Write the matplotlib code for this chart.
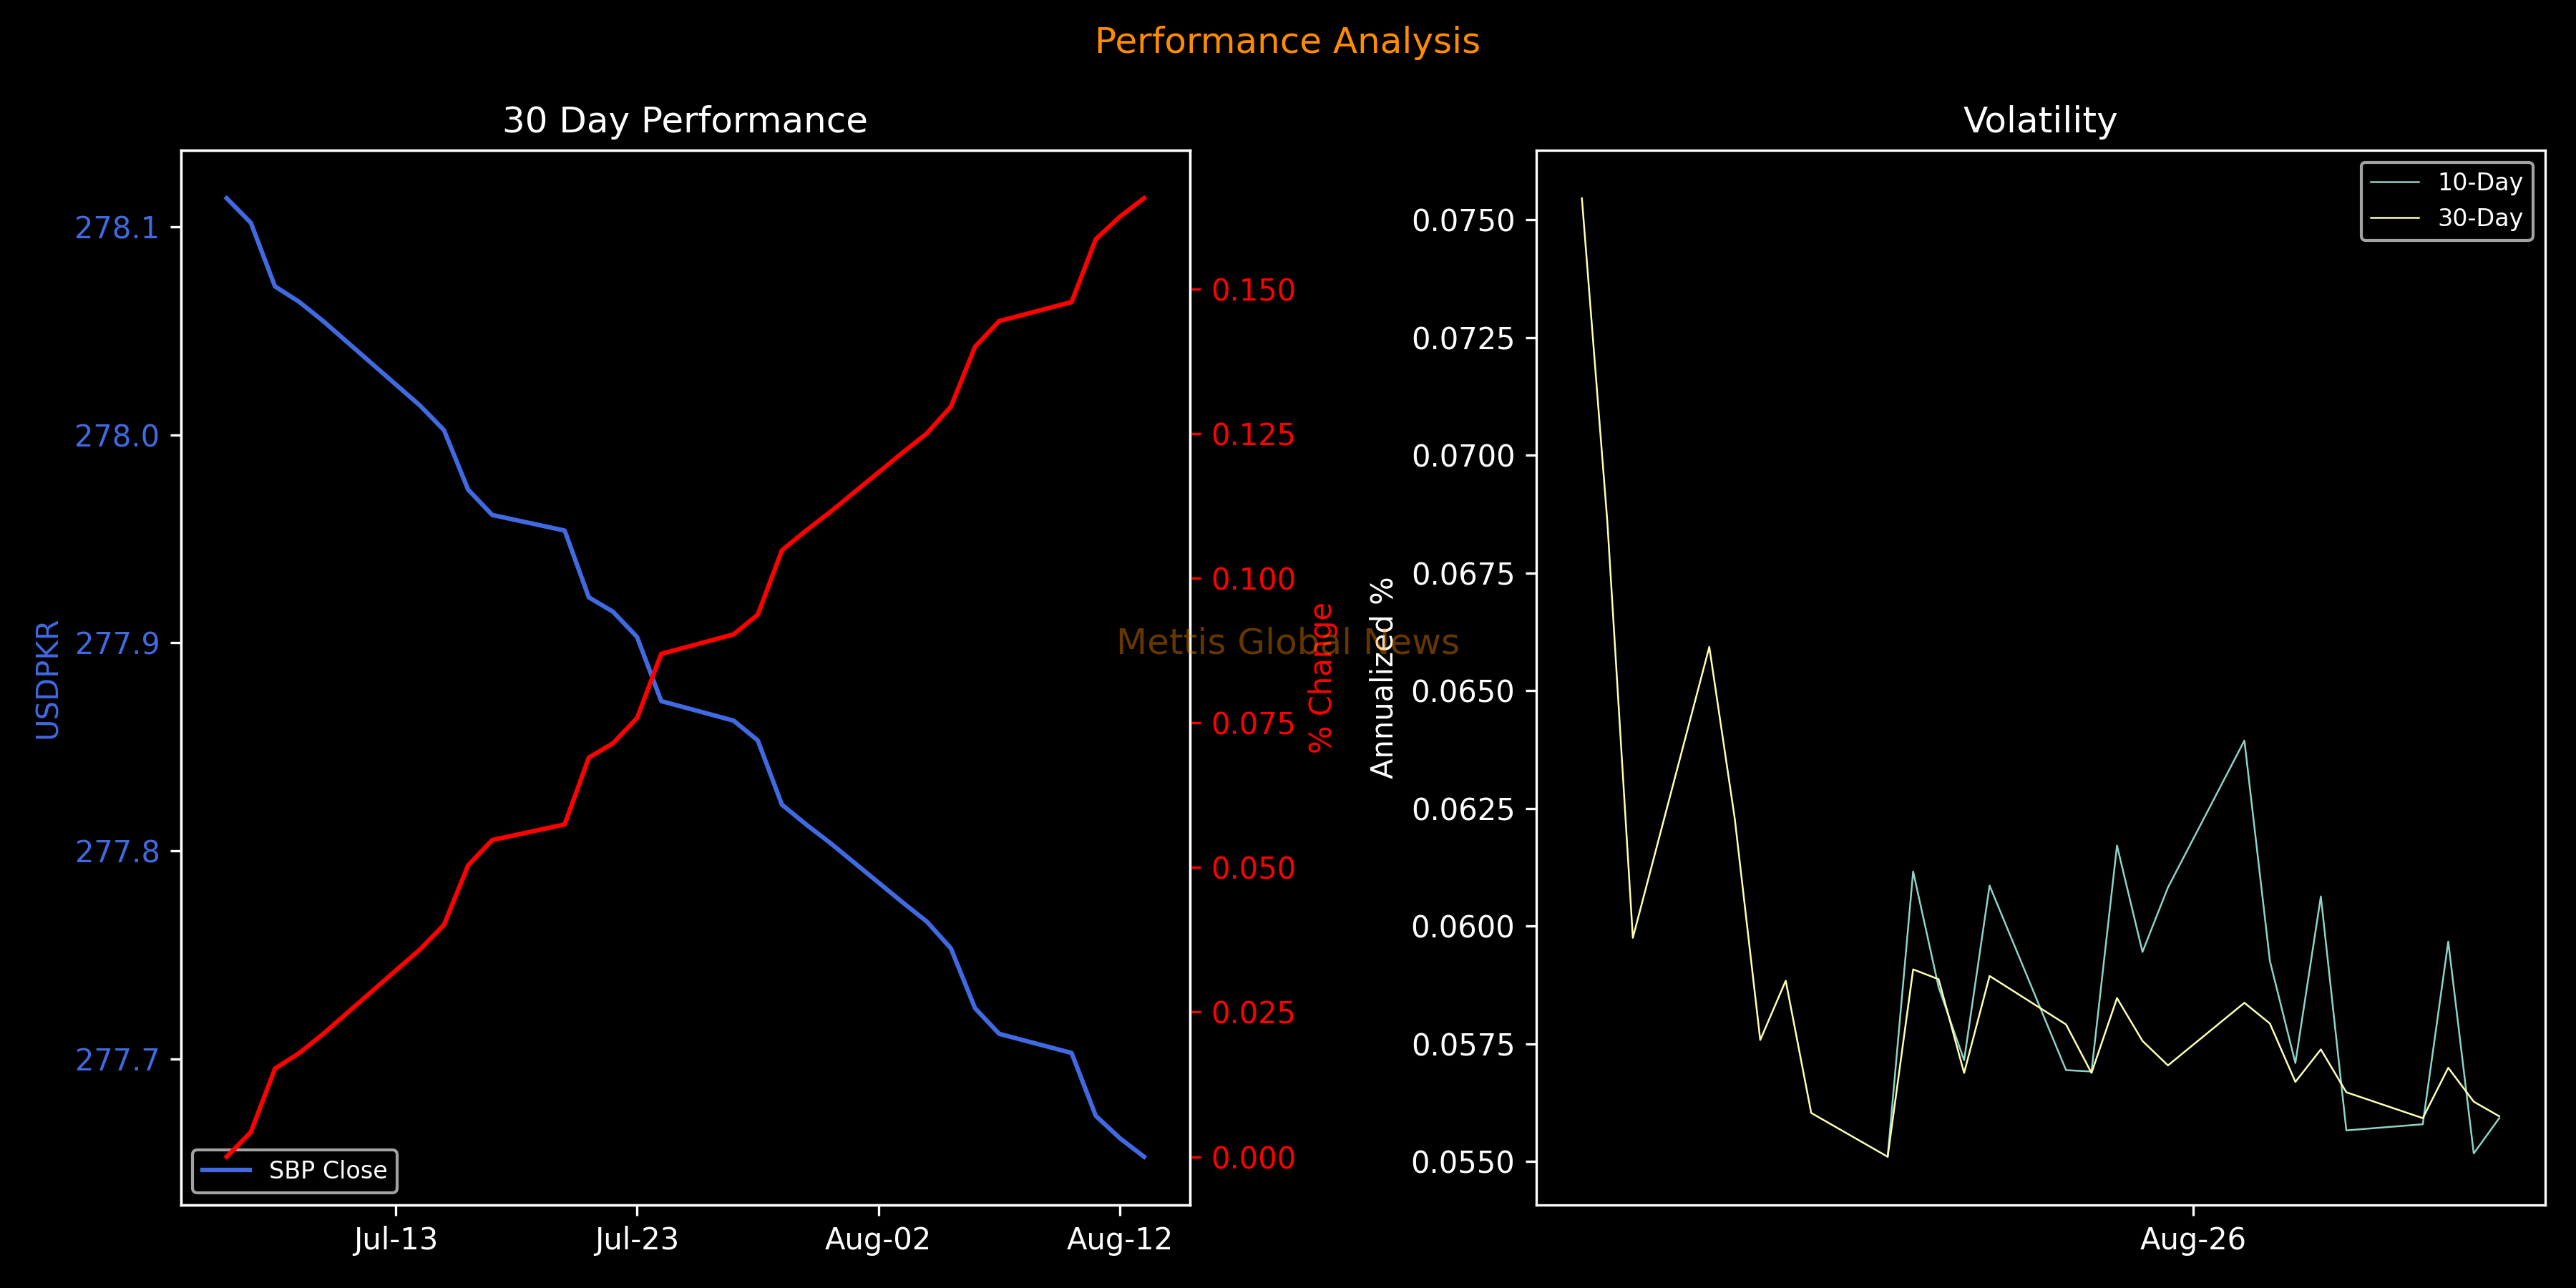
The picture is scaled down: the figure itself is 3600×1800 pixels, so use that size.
import pandas as pd
import matplotlib
matplotlib.use("Agg")
import matplotlib.pyplot as plt
import matplotlib.dates as mdates

plt.style.use("dark_background")

# 30 day SBP close (USDPKR)
perf_dates = [
    "2026-07-06", "2026-07-07", "2026-07-08", "2026-07-09", "2026-07-10",
    "2026-07-13", "2026-07-14", "2026-07-15", "2026-07-16", "2026-07-17",
    "2026-07-20", "2026-07-21", "2026-07-22", "2026-07-23", "2026-07-24",
    "2026-07-27", "2026-07-28", "2026-07-29", "2026-07-30", "2026-07-31",
    "2026-08-03", "2026-08-04", "2026-08-05", "2026-08-06", "2026-08-07",
    "2026-08-10", "2026-08-11", "2026-08-12", "2026-08-13",
]
sbp_close = [
    278.1138, 278.1020, 278.0714, 278.0640, 278.0547,
    278.0243, 278.0142, 278.0023, 277.9737, 277.9615,
    277.9540, 277.9219, 277.9150, 277.9028, 277.8720,
    277.8626, 277.8531, 277.8222, 277.8127, 277.8038,
    277.7752, 277.7660, 277.7531, 277.7243, 277.7120,
    277.7028, 277.6726, 277.6618, 277.6529,
]

# annualized volatility
vol_dates = [
    "2023-08-02", "2023-08-03", "2023-08-04",
    "2023-08-07", "2023-08-08", "2023-08-09", "2023-08-10", "2023-08-11",
    "2023-08-14", "2023-08-15", "2023-08-16", "2023-08-17", "2023-08-18",
    "2023-08-21", "2023-08-22", "2023-08-23", "2023-08-24", "2023-08-25",
    "2023-08-28", "2023-08-29", "2023-08-30", "2023-08-31", "2023-09-01",
    "2023-09-04", "2023-09-05", "2023-09-06", "2023-09-07",
]
nan = float("nan")
vol_10d = [
    nan, nan, nan,
    nan, nan, nan, nan, nan,
    0.05510, 0.06116, 0.05870, 0.05715, 0.06086,
    0.05694, 0.05691, 0.06171, 0.05945, 0.06082,
    0.06394, 0.05926, 0.05709, 0.06063, 0.05566,
    0.05579, 0.05967, 0.05517, 0.05592,
]
vol_30d = [
    0.07546, 0.06858, 0.05975,
    0.06593, 0.06228, 0.05758, 0.05884, 0.05603,
    0.05510, 0.05908, 0.05887, 0.05688, 0.05894,
    0.05791, 0.05688, 0.05847, 0.05756, 0.05704,
    0.05837, 0.05793, 0.05669, 0.05738, 0.05647,
    0.05592, 0.05699, 0.05627, 0.05596,
]

perf = pd.DataFrame({"close": sbp_close}, index=pd.to_datetime(perf_dates))
perf["pct"] = (perf["close"].iloc[0] - perf["close"]) / perf["close"].iloc[0] * 100
vol = pd.DataFrame({"10-Day": vol_10d, "30-Day": vol_30d}, index=pd.to_datetime(vol_dates))

fig, (ax1, ax3) = plt.subplots(1, 2, figsize=(12, 6), dpi=300)
fig.subplots_adjust(left=0.0702, right=0.988, bottom=0.0647, top=0.8833, wspace=0.343)

# left: close + % change
ax1.plot(perf.index, perf["close"], color="royalblue", lw=1.5, label="SBP Close")
ax1.set_ylabel("USDPKR", color="royalblue")
ax1.tick_params(axis="y", labelcolor="royalblue")
ax1.set_title("30 Day Performance")
ax1.legend(loc="lower left", fontsize=8)
ax1.xaxis.set_major_locator(mdates.DayLocator(interval=10))
ax1.xaxis.set_major_formatter(mdates.DateFormatter("%b-%d"))

ax2 = ax1.twinx()
ax2.plot(perf.index, perf["pct"], color="red", lw=1.5)
ax2.set_ylabel("% Change", color="red")
ax2.tick_params(axis="y", colors="red")

# right: volatility
ax3.plot(vol.index, vol["10-Day"], lw=0.6, label="10-Day")
ax3.plot(vol.index, vol["30-Day"], lw=0.6, label="30-Day")
ax3.set_title("Volatility")
ax3.set_ylabel("Annualized %")
ax3.legend(loc="upper right", fontsize=8)
ax3.xaxis.set_major_locator(mdates.DayLocator(bymonthday=26))
ax3.xaxis.set_major_formatter(mdates.DateFormatter("%b-%d"))

fig.suptitle("Performance Analysis", color="darkorange")
fig.text(0.5, 0.5, "Mettis Global News", color="darkorange", alpha=0.4,
         fontsize=12, ha="center", va="center")

fig.savefig("out.png", dpi=300)
